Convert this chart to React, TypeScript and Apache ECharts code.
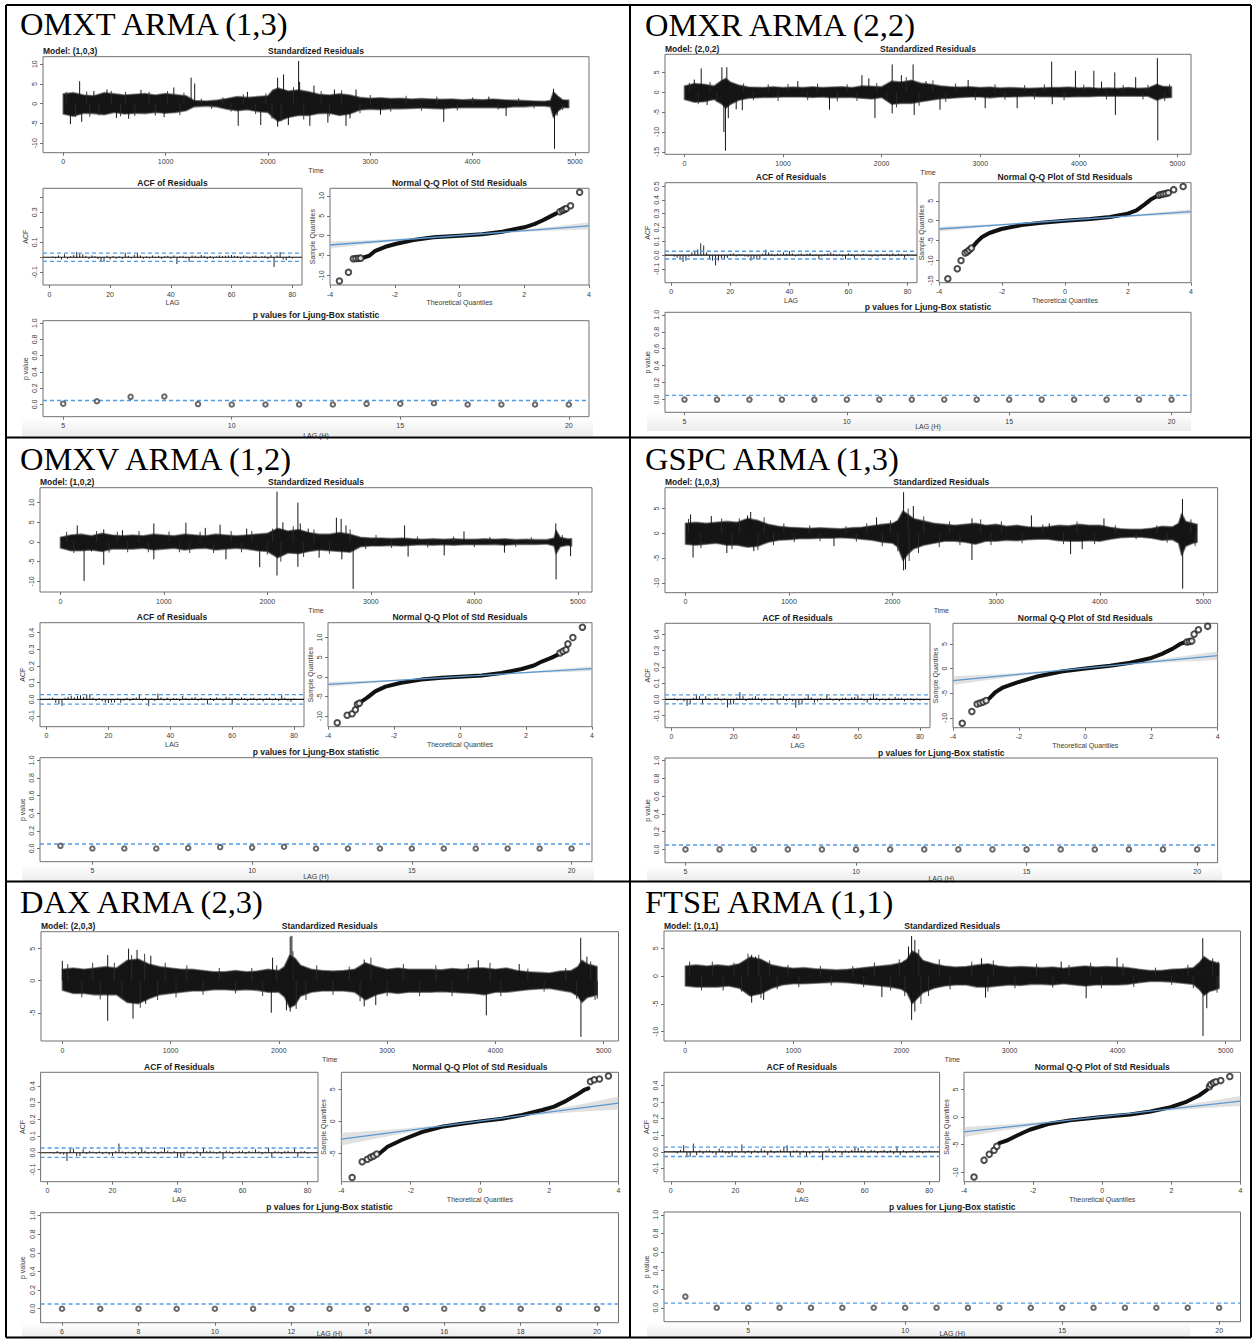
import React, { useEffect, useRef } from "react";
import * as echarts from "echarts";

// ---------------- DATA ----------------
const TITLES = ["OMXT ARMA (1,3)", "OMXR ARMA (2,2)", "OMXV ARMA (1,2)", "GSPC ARMA (1,3)", "DAX ARMA (2,3)", "FTSE ARMA (1,1)"];
const MODELS = ["Model: (1,0,3)", "Model: (2,0,2)", "Model: (1,0,2)", "Model: (1,0,3)", "Model: (2,0,3)", "Model: (1,0,1)"];

// residual envelope [time, upper, lower]
const OMXT_BAND = [[0,2.5,-2.6],[100,2.8,-3.2],[200,2.2,-2.4],[300,2.0,-2.5],[400,2.8,-2.8],[500,2.5,-2.2],[600,2.2,-2.6],[700,2.4,-2.4],[800,2.6,-2.5],[900,2.2,-2.2],[1000,2.6,-2.4],[1100,2.3,-2.2],[1200,2.0,-1.8],[1280,0.8,-0.8],[1400,0.7,-0.6],[1500,0.9,-0.8],[1600,1.3,-1.4],[1700,1.8,-1.8],[1800,1.6,-1.5],[1900,1.8,-2.0],[2000,2.0,-2.2],[2050,3.5,-3.5],[2100,4.0,-4.5],[2200,3.2,-3.5],[2300,3.5,-3.0],[2400,3.0,-3.0],[2500,2.4,-2.5],[2600,2.2,-2.4],[2700,2.5,-3.0],[2800,2.2,-2.6],[2900,1.6,-1.6],[3000,1.4,-1.4],[3100,1.5,-1.5],[3200,1.3,-1.3],[3300,1.4,-1.3],[3400,1.2,-1.2],[3500,1.3,-1.1],[3600,1.2,-1.2],[3700,1.1,-1.3],[3800,1.2,-1.1],[3900,1.0,-1.0],[4000,1.1,-1.0],[4100,1.0,-1.0],[4200,1.2,-1.0],[4300,1.0,-1.1],[4400,0.9,-0.8],[4500,0.8,-0.8],[4600,0.7,-0.6],[4700,0.6,-0.6],[4760,0.8,-0.8],[4790,3.0,-3.5],[4830,2.0,-2.0],[4880,1.0,-1.0],[4940,0.9,-1.0]];
const OMXR_BAND = [[0,1.6,-1.8],[100,2.2,-2.5],[200,2.0,-2.4],[300,1.6,-1.8],[380,3.0,-3.0],[420,3.5,-4.0],[470,2.5,-3.0],[550,1.8,-2.0],[650,1.3,-1.5],[800,1.2,-1.3],[900,1.4,-1.3],[1000,1.2,-1.2],[1100,1.3,-1.2],[1200,1.2,-1.2],[1300,1.4,-1.3],[1400,1.2,-1.2],[1500,1.3,-1.4],[1600,1.4,-1.3],[1700,1.2,-1.3],[1800,1.6,-1.5],[1900,1.5,-1.7],[2000,1.4,-1.3],[2100,2.8,-3.0],[2200,2.6,-2.8],[2300,3.0,-2.8],[2400,2.3,-2.4],[2500,2.0,-2.0],[2600,1.6,-1.6],[2700,1.4,-1.5],[2800,1.3,-1.3],[2900,1.4,-1.2],[3000,1.2,-1.2],[3100,1.3,-1.4],[3200,1.1,-1.2],[3300,1.2,-1.2],[3400,1.1,-1.1],[3500,1.0,-1.0],[3600,1.1,-1.1],[3700,1.2,-1.1],[3800,1.2,-1.2],[3900,1.3,-1.2],[4000,1.1,-1.1],[4100,1.2,-1.1],[4200,1.0,-1.0],[4300,1.1,-1.0],[4400,1.0,-1.0],[4500,1.2,-1.0],[4600,1.0,-1.0],[4700,1.1,-1.0],[4790,2.0,-2.0],[4850,1.5,-1.5],[4940,1.4,-1.3]];
const OMXV_BAND = [[0,1.2,-1.5],[100,1.8,-2.2],[200,2.0,-2.2],[300,1.6,-2.0],[400,2.2,-2.4],[500,1.8,-1.8],[600,1.6,-1.8],[700,1.8,-1.8],[800,1.6,-1.6],[900,2.0,-2.0],[1000,1.8,-1.8],[1100,1.6,-1.6],[1200,2.0,-2.0],[1300,1.8,-1.7],[1400,1.6,-1.6],[1500,2.0,-2.0],[1600,1.8,-1.8],[1700,1.6,-1.6],[1800,1.8,-1.8],[1900,2.0,-2.2],[2000,2.2,-2.4],[2100,3.5,-4.0],[2200,2.8,-2.8],[2300,3.2,-3.0],[2400,2.4,-2.4],[2500,2.0,-2.0],[2600,2.0,-2.2],[2700,2.4,-2.4],[2800,2.0,-2.6],[2900,1.2,-1.2],[3000,1.0,-1.0],[3100,1.0,-1.0],[3200,0.9,-0.9],[3300,1.0,-1.0],[3400,0.8,-0.8],[3500,0.7,-0.7],[3600,0.8,-0.8],[3700,0.7,-0.7],[3800,0.8,-0.8],[3900,0.7,-0.7],[4000,0.7,-0.7],[4100,0.8,-0.7],[4200,0.7,-0.6],[4300,0.8,-0.8],[4400,0.6,-0.6],[4500,0.7,-0.6],[4600,0.6,-0.6],[4700,0.6,-0.5],[4770,1.0,-1.0],[4790,3.0,-3.0],[4830,1.2,-1.2],[4900,0.8,-0.8],[4940,0.8,-1.0]];
const GSPC_BAND = [[0,2.0,-2.2],[100,2.2,-2.4],[200,2.0,-2.2],[300,2.2,-2.0],[400,2.4,-2.4],[500,2.2,-2.4],[600,3.0,-2.8],[700,2.6,-2.6],[800,1.8,-1.8],[900,1.4,-1.4],[1000,1.2,-1.3],[1100,1.1,-1.1],[1200,1.0,-1.1],[1300,1.1,-1.0],[1400,1.0,-1.0],[1500,0.9,-0.9],[1600,1.1,-1.0],[1700,1.2,-1.2],[1800,1.5,-1.4],[1900,1.8,-1.8],[2000,2.0,-2.0],[2050,2.6,-2.8],[2100,4.5,-5.5],[2150,3.8,-4.2],[2200,3.0,-3.2],[2300,2.5,-2.4],[2400,2.0,-2.0],[2500,1.8,-1.6],[2600,1.6,-1.6],[2700,1.8,-1.8],[2800,2.0,-2.2],[2900,1.6,-1.6],[3000,1.8,-1.6],[3100,1.4,-1.4],[3200,1.6,-1.5],[3300,1.3,-1.3],[3400,1.2,-1.2],[3500,1.3,-1.2],[3600,1.6,-1.5],[3700,1.5,-1.6],[3800,1.8,-1.6],[3900,1.6,-1.5],[4000,1.6,-1.6],[4100,1.2,-1.2],[4200,0.9,-0.9],[4300,0.8,-0.8],[4400,0.8,-0.8],[4500,1.0,-1.0],[4600,1.4,-1.4],[4700,1.3,-1.3],[4760,2.0,-2.0],[4790,4.0,-4.5],[4830,2.4,-2.6],[4900,2.0,-2.0],[4940,1.8,-1.8]];
const DAX_BAND = [[0,1.8,-1.5],[100,2.0,-2.0],[200,1.8,-2.0],[300,2.0,-2.2],[400,2.2,-2.2],[500,2.0,-2.2],[600,3.2,-3.4],[700,3.4,-3.6],[800,2.6,-2.8],[900,2.2,-2.2],[1000,2.0,-2.0],[1100,1.8,-1.8],[1200,1.8,-1.6],[1300,1.6,-1.6],[1400,1.4,-1.4],[1500,1.4,-1.4],[1600,1.6,-1.5],[1700,1.4,-1.4],[1800,1.5,-1.5],[1900,1.8,-1.8],[2000,1.6,-1.8],[2050,2.2,-2.5],[2100,4.0,-4.2],[2150,3.5,-3.8],[2200,2.4,-2.4],[2300,1.8,-1.8],[2400,1.6,-1.6],[2500,1.5,-1.6],[2600,1.6,-1.6],[2700,1.8,-1.8],[2800,2.8,-3.0],[2900,2.2,-2.2],[3000,1.8,-1.8],[3100,2.0,-2.0],[3200,1.8,-1.8],[3300,1.8,-1.8],[3400,1.8,-1.8],[3500,1.7,-1.7],[3600,1.9,-1.8],[3700,1.8,-1.9],[3800,2.0,-2.0],[3900,2.0,-2.2],[4000,1.8,-1.8],[4100,2.0,-1.8],[4200,1.6,-1.6],[4300,1.4,-1.4],[4400,1.3,-1.3],[4500,1.2,-1.2],[4600,1.5,-1.5],[4700,1.6,-1.8],[4760,2.2,-2.4],[4800,3.2,-3.4],[4850,2.6,-2.6],[4900,2.4,-2.4],[4940,2.2,-2.2]];
const FTSE_BAND = [[0,1.8,-1.8],[100,2.0,-2.0],[200,1.8,-2.0],[300,2.0,-2.0],[400,1.8,-1.8],[500,2.2,-2.2],[600,3.4,-3.6],[700,3.0,-3.2],[800,2.0,-2.2],[900,1.6,-1.6],[1000,1.4,-1.4],[1100,1.5,-1.4],[1200,1.3,-1.3],[1300,1.2,-1.2],[1400,1.1,-1.1],[1500,1.2,-1.2],[1600,1.4,-1.4],[1700,1.6,-1.6],[1800,1.8,-1.8],[1900,2.0,-2.0],[2000,2.4,-2.4],[2050,3.0,-3.0],[2100,4.5,-5.0],[2150,4.0,-4.0],[2200,2.8,-3.0],[2300,2.2,-2.2],[2400,1.8,-1.8],[2500,1.6,-1.6],[2600,1.7,-1.6],[2700,2.0,-2.0],[2800,2.2,-2.0],[2900,1.8,-1.8],[3000,1.6,-1.6],[3100,1.7,-1.7],[3200,1.6,-1.5],[3300,1.5,-1.5],[3400,1.6,-1.6],[3500,1.4,-1.4],[3600,1.6,-1.6],[3700,1.8,-1.8],[3800,1.6,-1.6],[3900,1.7,-1.6],[4000,1.6,-1.6],[4100,1.5,-1.5],[4200,1.2,-1.2],[4300,1.0,-1.0],[4400,1.0,-1.0],[4500,1.2,-1.1],[4600,1.3,-1.3],[4700,1.5,-1.5],[4760,2.5,-2.5],[4800,3.5,-3.5],[4850,2.8,-2.8],[4900,2.5,-2.5],[4940,2.2,-2.2]];

// large isolated residual spikes [time, value]
const OMXT_SPIKES = [[71,-5.2],[161,5.7],[181,-4.6],[300,3.2],[428,3.6],[520,-3.6],[640,-3.8],[760,3.5],[986,-3.4],[1081,4.1],[1250,6.6],[1285,5.1],[1710,-5.6],[1800,3.0],[1930,-5.4],[2095,6.6],[2095,-5.8],[2153,7.4],[2200,-5.4],[2300,10.8],[2310,5.5],[2410,-5.6],[2450,4.6],[2586,-4.8],[2650,3.6],[2763,-5.6],[2802,-3.7],[2861,3.6],[3100,-2.8],[3718,-4.6],[4159,1.8],[4327,-3.1],[4790,3.8],[4800,-11.4],[4826,-3.0]];
const OMXR_SPIKES = [[100,3.2],[170,6.0],[230,-3.2],[380,6.3],[400,-10.0],[416,-14.7],[430,6.3],[445,-6.5],[525,-4.3],[587,-4.5],[1150,2.8],[1471,-4.4],[1800,4.3],[1870,3.5],[1932,-6.5],[2107,7.0],[2107,-5.3],[2200,4.3],[2319,7.0],[2330,-5.7],[2450,2.8],[2592,-4.4],[2877,3.1],[3050,-4.0],[3374,-4.0],[3724,7.7],[3730,-3.0],[3965,5.4],[4152,5.4],[4230,2.7],[4364,5.0],[4370,-5.7],[4576,3.8],[4796,8.6],[4800,-12.1]];
const OMXV_SPIKES = [[163,4.2],[229,-9.9],[300,-2.4],[419,3.2],[419,-5.8],[600,3.0],[903,4.7],[903,-4.4],[1213,4.9],[1400,3.6],[1543,4.4],[1600,-4.4],[1800,3.4],[1926,-6.4],[2093,12.8],[2093,-8.5],[2150,5.0],[2295,10.0],[2295,-6.3],[2318,4.7],[2395,3.4],[2500,-4.0],[2667,6.2],[2713,5.9],[2720,-4.4],[2760,4.2],[2829,-11.9],[3326,4.2],[3360,-3.7],[3709,-3.4],[3900,2.7],[4291,-2.7],[4787,4.7],[4790,-9.5],[4930,-3.6]];
const GSPC_SPIKES = [[50,3.8],[74,-4.9],[250,3.5],[400,-4.0],[600,3.6],[630,4.3],[660,-3.6],[1434,-2.6],[1845,3.2],[2106,8.3],[2106,-7.5],[2125,-7.3],[2200,5.5],[2766,-5.4],[2766,3.0],[3340,3.6],[3512,2.0],[3718,-4.2],[3830,-3.2],[4040,3.0],[4798,6.9],[4800,-11.2]];
const DAX_SPIKES = [[0,3.1],[419,4.0],[419,-6.25],[612,5.0],[653,-5.9],[690,4.8],[770,-3.6],[817,3.9],[1930,-5.0],[1942,3.6],[2105,6.9],[2120,7.0],[2070,-4.6],[2105,-4.8],[2788,3.3],[2788,-4.0],[2895,-3.8],[3842,3.2],[3916,-5.4],[4220,2.6],[4788,6.7],[4790,-8.75],[4845,3.75],[4940,-2.8]];
const FTSE_SPIKES = [[614,3.8],[614,-4.8],[650,3.5],[725,-4.3],[1819,-3.8],[2065,5.3],[2094,7.2],[2094,-7.9],[2124,6.5],[2124,-6.4],[2741,3.2],[2778,-3.9],[3478,2.6],[3709,-4.0],[3995,3.3],[4788,6.8],[4790,-10.8],[4825,-5.8],[4930,2.6]];

// smaller excursions just outside the dense band [time, value]
const OMXT_SWINGS = [[30,3.0],[120,-3.4],[230,3.1],[260,-3.3],[350,-3.0],[470,3.2],[560,-3.2],[610,3.0],[700,-3.1],[840,3.0],[900,-3.0],[1020,3.2],[1140,-2.9],[1180,2.8],[1350,1.3],[1450,-1.3],[1560,1.6],[1640,-2.0],[1760,2.4],[1880,-2.6],[1980,2.6],[2040,-3.8],[2130,-4.4],[2250,4.2],[2350,-4.0],[2520,3.2],[2600,-3.2],[2720,3.4],[2900,-2.4],[3000,2.2],[3200,-2.0],[3350,2.0],[3500,-1.8],[3650,1.8],[3850,-1.7],[4000,1.6],[4250,-1.5],[4450,1.4],[4600,-1.2],[4880,-1.6]];
const OMXR_SWINGS = [[50,2.4],[140,-3.0],[260,2.6],[330,-2.5],[600,2.2],[700,-2.0],[850,2.0],[950,-2.2],[1050,2.1],[1250,-2.0],[1350,2.2],[1550,-2.3],[1650,2.0],[1750,-2.2],[1950,2.3],[2050,-2.0],[2150,-3.8],[2250,3.8],[2380,-3.4],[2520,3.0],[2650,-2.4],[2750,2.2],[2950,-2.0],[3150,2.0],[3250,-1.9],[3450,1.8],[3550,-1.8],[3650,2.0],[3850,-2.0],[4050,1.9],[4280,-1.8],[4450,1.8],[4650,-1.8],[4700,1.9],[4870,-2.2],[4920,2.0]];
const OMXV_SWINGS = [[60,2.6],[130,-2.8],[350,2.8],[470,-2.7],[550,2.6],[650,-2.6],[760,2.8],[850,-2.6],[1050,2.7],[1150,-2.6],[1250,-2.8],[1350,2.6],[1480,-2.8],[1650,2.8],[1750,-2.6],[1850,2.8],[2000,-3.2],[2050,3.4],[2130,-5.0],[2250,4.0],[2350,-3.8],[2450,3.2],[2600,-3.0],[2800,3.2],[2950,-1.8],[3050,1.8],[3200,-1.5],[3450,1.4],[3550,-1.4],[3800,1.4],[4000,-1.3],[4150,1.3],[4400,-1.2],[4550,1.2],[4850,1.8]];
const GSPC_SWINGS = [[30,2.9],[150,-3.0],[350,3.0],[450,-3.2],[520,3.0],[700,-3.4],[760,3.2],[850,-2.4],[950,2.0],[1050,-1.8],[1200,1.6],[1300,-1.6],[1550,1.4],[1650,-1.7],[1750,2.0],[1900,-2.6],[1980,2.6],[2050,-3.6],[2150,5.0],[2160,-5.6],[2250,-4.0],[2300,3.4],[2450,-2.8],[2550,2.4],[2650,-2.4],[2850,2.8],[2950,-2.4],[3050,2.4],[3250,-2.0],[3450,1.8],[3650,-2.2],[3780,2.4],[3950,-2.2],[4150,1.6],[4350,-1.2],[4550,1.6],[4650,-1.9],[4880,2.8],[4920,-2.6]];
const DAX_SWINGS = [[50,2.6],[180,-2.6],[280,2.8],[350,-2.9],[480,2.8],[550,-2.8],[640,4.0],[720,-4.2],[760,4.2],[880,-3.0],[950,2.8],[1050,-2.6],[1150,2.4],[1300,-2.2],[1450,2.0],[1600,-2.0],[1750,2.0],[1850,-2.4],[1980,2.4],[2130,4.6],[2160,-4.4],[2250,-3.0],[2350,2.4],[2500,-2.2],[2650,2.2],[2750,-3.2],[2850,3.6],[3000,-2.4],[3150,2.6],[3300,-2.4],[3450,2.4],[3600,-2.4],[3750,2.6],[3950,2.8],[4050,-2.4],[4300,1.9],[4450,-1.7],[4650,2.0],[4750,-2.8],[4880,3.0],[4920,-3.0]];
const FTSE_SWINGS = [[40,2.6],[150,-2.6],[250,2.6],[350,-2.6],[450,2.4],[520,-2.8],[580,4.0],[680,3.8],[700,-4.0],[780,2.8],[850,-2.4],[950,2.0],[1050,-2.0],[1250,1.8],[1350,-1.7],[1550,1.8],[1650,-2.0],[1750,2.4],[1900,-2.6],[1980,3.0],[2030,-3.6],[2160,4.8],[2180,-5.0],[2250,-3.6],[2350,3.0],[2450,-2.4],[2650,2.6],[2800,-2.8],[2850,2.8],[3050,-2.2],[3250,2.2],[3400,-2.1],[3550,2.0],[3750,2.4],[3850,-2.2],[4050,2.2],[4150,-2.0],[4350,1.5],[4500,-1.6],[4650,2.0],[4700,-2.2],[4880,3.2],[4920,-3.0]];

// ACF of residuals, lags 1..80
const OMXT_ACF = [0.005,-0.008,0.012,-0.015,0.02,-0.01,0.008,0.015,0.035,0.025,0.02,0.01,-0.01,0.012,0.008,-0.012,-0.028,-0.03,0.01,-0.015,0.008,-0.01,0.006,-0.012,0.03,0.01,-0.008,0.015,0.03,0.012,-0.01,0.006,-0.008,0.012,-0.006,0.01,-0.012,0.008,0.01,-0.01,0.012,-0.045,0.008,0.01,-0.008,-0.03,0.012,0.01,-0.006,0.015,0.01,-0.012,0.008,-0.01,0.006,0.012,0.008,0.01,0.012,0.015,0.01,0.008,-0.01,0.012,0.006,-0.008,0.01,0.012,-0.006,0.008,0.01,-0.012,0.015,-0.065,0.012,0.035,-0.015,-0.02,0.01,-0.008];
const OMXR_ACF = [-0.012,-0.02,-0.03,-0.05,-0.04,-0.012,0.02,0.03,0.04,0.085,0.07,0.02,-0.03,-0.04,-0.075,-0.04,-0.02,-0.03,-0.02,0.01,0.012,-0.01,0.008,0.006,-0.01,-0.015,-0.04,-0.03,-0.025,-0.03,0.01,0.04,0.02,0.01,-0.008,0.012,0.006,0.02,0.01,0.03,0.012,-0.01,0.008,0.012,-0.006,0.01,0.015,-0.008,0.006,-0.03,-0.01,0.008,0.012,0.02,0.01,-0.008,0.006,-0.01,-0.03,0.012,0.008,-0.02,0.006,-0.008,0.01,0.006,-0.008,-0.012,0.006,-0.01,0.008,-0.006,0.01,-0.01,0.012,-0.008,0.01,0.006,-0.02,0.008];
const OMXV_ACF = [0.004,0.01,-0.02,-0.03,-0.04,0.01,0.015,0.02,0.012,0.02,0.025,0.015,0.03,0.028,0.01,-0.01,0.008,-0.012,-0.02,-0.022,-0.018,-0.02,0.006,-0.02,-0.008,0.01,-0.01,0.008,0.012,0.03,-0.008,0.01,-0.04,0.006,-0.01,0.035,0.012,-0.008,0.01,-0.012,0.008,0.006,-0.01,0.02,0.008,-0.006,0.01,0.012,-0.008,0.01,0.006,-0.03,0.008,-0.01,0.012,0.006,-0.008,0.015,0.01,-0.03,0.008,-0.006,0.012,0.006,-0.01,0.008,0.01,-0.008,0.006,-0.012,0.008,0.01,-0.006,0.008,-0.01,0.025,0.01,-0.008,-0.015,0.006];
const GSPC_ACF = [0.006,-0.008,0.004,-0.012,-0.04,-0.03,0.01,0.03,0.02,-0.03,0.02,0.008,-0.006,0.01,0.012,-0.008,0.006,-0.05,-0.03,-0.03,0.01,0.045,0.02,-0.01,0.008,0.012,0.02,0.01,-0.012,0.008,-0.006,0.01,0.006,-0.025,0.008,0.02,-0.01,0.006,-0.012,-0.05,-0.035,-0.03,0.01,0.03,0.012,-0.02,-0.012,0.008,-0.006,0.03,0.01,-0.008,0.006,-0.012,0.008,0.01,-0.006,0.012,0.015,0.025,0.01,-0.008,-0.02,0.012,0.035,0.01,-0.01,0.006,-0.008,0.01,-0.006,0.015,0.008,0.01,-0.012,0.006,0.008,-0.01,0.006,-0.008];
const DAX_ACF = [0.004,-0.006,0.01,-0.008,-0.012,-0.05,0.025,0.025,-0.02,-0.02,0.02,-0.008,0.01,0.006,-0.006,0.008,-0.01,0.006,-0.012,-0.02,0.01,0.055,0.008,-0.01,0.006,-0.008,0.01,-0.012,0.03,0.012,-0.008,0.006,0.01,-0.01,0.008,0.03,0.012,-0.006,0.01,-0.03,-0.03,-0.02,0.008,0.006,-0.01,0.012,-0.02,0.03,0.01,0.012,0.008,-0.006,0.01,-0.04,0.012,0.008,-0.01,0.006,0.01,0.012,-0.008,0.01,0.006,0.02,0.008,-0.01,0.006,0.03,-0.03,0.01,0.008,-0.008,0.01,0.012,0.006,0.025,-0.03,0.008,0.01,-0.006];
const FTSE_ACF = [0.006,-0.01,0.012,0.04,-0.03,-0.03,0.05,-0.02,0.01,-0.012,0.008,0.01,-0.008,-0.02,0.02,0.012,-0.01,-0.012,-0.03,0.008,-0.006,0.045,-0.01,0.008,-0.012,0.01,-0.008,0.02,0.01,-0.02,0.012,-0.008,0.006,0.012,0.03,0.04,-0.03,0.008,0.01,-0.02,0.008,-0.025,-0.012,0.01,0.006,-0.008,-0.05,0.01,0.02,-0.008,0.012,0.006,-0.02,0.01,-0.006,0.012,0.03,0.025,0.01,0.015,-0.008,0.012,0.01,-0.01,0.006,0.012,-0.008,0.01,-0.012,0.035,-0.02,0.01,-0.008,0.006,0.012,-0.006,0.008,-0.01,0.006,0.008];
const ACF_BOUND = [0.028, 0.028, 0.028, 0.028, 0.028, 0.028];

// Q-Q: dense central curve, tail circles, reference line end points, band half-widths at x=-4..4
const OMXT_QQ_CURVE = [[-2.98,-5.55],[-2.78,-5.0],[-2.6,-3.8],[-2.29,-2.8],[-1.98,-2.1],[-1.42,-1.1],[-0.8,-0.42],[0,0],[0.7,0.34],[1.32,1.0],[1.69,1.6],[2.0,2.1],[2.31,2.9],[2.56,3.8],[2.75,4.6],[2.99,5.6]];
const OMXR_QQ_CURVE = [[-2.91,-6.4],[-2.78,-5.2],[-2.63,-4.1],[-2.4,-3.1],[-2.02,-2.1],[-1.38,-1.1],[-0.74,-0.5],[0,0],[0.8,0.42],[1.43,0.92],[1.95,1.67],[2.27,2.6],[2.53,4.1],[2.72,5.3],[2.9,6.1]];
const OMXV_QQ_CURVE = [[-2.99,-6.3],[-2.81,-5.3],[-2.57,-3.7],[-2.26,-2.5],[-1.78,-1.5],[-1.17,-0.7],[-0.56,-0.25],[0,0],[0.66,0.34],[1.26,1.0],[1.87,2.0],[2.24,2.9],[2.48,3.9],[2.78,4.9],[2.95,5.6]];
const GSPC_QQ_CURVE = [[-2.91,-6.1],[-2.72,-4.8],[-2.48,-3.8],[-2.05,-2.8],[-1.45,-1.6],[-0.72,-0.6],[0,0],[0.75,0.6],[1.36,1.2],[1.96,2.1],[2.32,3.0],[2.63,4.0],[2.87,5.0],[3.0,5.3]];
const DAX_QQ_CURVE = [[-2.9,-5.0],[-2.67,-3.96],[-2.26,-2.9],[-1.68,-1.67],[-1.1,-0.83],[-0.52,-0.36],[0,0],[0.64,0.42],[1.22,1.0],[1.8,1.77],[2.14,2.3],[2.49,3.2],[2.78,4.1],[3.01,4.9],[3.13,5.15]];
const FTSE_QQ_CURVE = [[-2.98,-4.7],[-2.74,-4.2],[-2.45,-3.3],[-2.1,-2.3],[-1.52,-1.2],[-0.94,-0.6],[0,0],[0.81,0.48],[1.4,1.0],[1.98,1.8],[2.45,2.8],[2.8,3.9],[3.03,4.9]];
const OMXT_QQ_TAIL = [[-3.71,-11.4],[-3.43,-9.2],[-3.28,-5.8],[-3.2,-5.75],[-3.12,-5.7],[-3.05,-5.65],[3.1,6.0],[3.18,6.3],[3.24,6.6],[3.3,6.8],[3.43,7.5],[3.71,10.9]];
const OMXR_QQ_TAIL = [[-3.72,-14.6],[-3.42,-12.1],[-3.3,-10.0],[-3.17,-8.1],[-3.1,-7.8],[-3.04,-7.4],[-2.97,-6.9],[2.98,6.4],[3.05,6.6],[3.12,6.7],[3.2,6.85],[3.28,7.0],[3.45,7.8],[3.75,8.6]];
const OMXV_QQ_TAIL = [[-3.72,-11.7],[-3.42,-9.8],[-3.27,-9.4],[-3.17,-8.4],[-3.11,-7.0],[-3.05,-6.7],[3.03,6.1],[3.12,6.5],[3.21,6.9],[3.27,8.4],[3.42,10.0],[3.71,12.66]];
const GSPC_QQ_TAIL = [[-3.72,-11.08],[-3.43,-8.7],[-3.27,-7.2],[-3.18,-7.0],[-3.09,-6.8],[-3.0,-6.5],[3.07,5.4],[3.15,5.5],[3.22,5.6],[3.29,7.0],[3.42,7.9],[3.7,8.58]];
const DAX_QQ_TAIL = [[-3.69,-8.75],[-3.4,-6.3],[-3.25,-5.9],[-3.15,-5.6],[-3.07,-5.4],[-2.98,-5.1],[3.19,6.2],[3.3,6.5],[3.45,6.6],[3.71,7.08]];
const FTSE_QQ_TAIL = [[-3.71,-10.84],[-3.42,-7.8],[-3.27,-6.75],[-3.13,-6.0],[-3.05,-5.3],[3.1,5.5],[3.14,5.9],[3.22,6.2],[3.29,6.4],[3.43,6.6],[3.69,7.35]];
const OMXT_QQ_LINE = [[-4,-2.35],[4,2.44]];
const OMXR_QQ_LINE = [[-4,-2.1],[4,2.26]];
const OMXV_QQ_LINE = [[-4,-1.94],[4,2.1]];
const GSPC_QQ_LINE = [[-4,-2.43],[4,2.64]];
const DAX_QQ_LINE = [[-4,-2.76],[4,2.86]];
const FTSE_QQ_LINE = [[-4,-2.7],[4,2.9]];
const QQ_BAND_X = [-4, -3, -2, -1, 0, 1, 2, 3, 4];
const OMXT_QQ_HALF = [0.9,0.55,0.3,0.15,0.1,0.15,0.3,0.55,0.9];
const OMXR_QQ_HALF = [0.6,0.4,0.2,0.1,0.08,0.1,0.2,0.4,0.6];
const OMXV_QQ_HALF = [0.6,0.4,0.2,0.1,0.08,0.1,0.2,0.4,0.6];
const GSPC_QQ_HALF = [0.9,0.55,0.3,0.15,0.1,0.15,0.3,0.55,0.9];
const DAX_QQ_HALF = [1.0,0.6,0.32,0.15,0.1,0.15,0.32,0.6,1.0];
const FTSE_QQ_HALF = [0.9,0.55,0.3,0.15,0.1,0.15,0.3,0.55,0.9];

// Ljung-Box p values (first lag, then values)
const LB_FIRST_LAG = [5, 5, 4, 5, 6, 3];
const OMXT_PVAL = [0.01,0.04,0.094,0.098,0.005,0,0,0,0,0.008,0.01,0.015,0,0,0,0];
const OMXR_PVAL = [0,0,0,0,0,0,0,0,0,0,0,0,0,0,0,0];
const OMXV_PVAL = [0.03,0,0,0,0.006,0.015,0.01,0.02,0,0,0,0,0,0,0,0,0];
const GSPC_PVAL = [0,0,0,0,0,0,0,0,0,0,0,0,0,0,0,0];
const DAX_PVAL = [0,0,0,0,0,0,0,0,0,0,0,0,0,0,0];
const FTSE_PVAL = [0.12,0,0,0,0,0,0,0,0,0,0,0,0,0,0,0,0,0];
const LB_LEVEL = 0.05;

// axis scales and tick labels
const RES_X = [-197, 5137];
const RES_X_TICKS = [0, 1000, 2000, 3000, 4000, 5000];
const RES_Y = [[-12.4, 11.9], [-15.6, 9.55], [-12.7, 13.8], [-12, 9.2], [-9.4, 7.65], [-11.7, 8.1]];
const RES_Y_TICKS = [[-10,-5,0,5,10], [-15,-10,-5,0,5], [-10,-5,0,5,10], [-10,-5,0,5], [-5,0,5], [-10,-5,0,5]];
const ACF_X = [-2.1, 83.2];
const ACF_X_TICKS = [0, 20, 40, 60, 80];
const ACF_Y = [[-0.185, 0.46], [-0.2, 0.525], [-0.164, 0.46], [-0.174, 0.468], [-0.174, 0.482], [-0.18, 0.48]];
const ACF_Y_TICKS = [[-0.1,0,0.1,0.2,0.3,0.4], [-0.1,0,0.1,0.2,0.3,0.4,0.5], [-0.1,0,0.1,0.2,0.3,0.4], [-0.1,0,0.1,0.2,0.3,0.4], [-0.1,0,0.1,0.2,0.3,0.4], [-0.1,0,0.1,0.2,0.3,0.4]];
const ACF_Y_LABELS = [[-0.1,0.1,0.3], [-0.1,0,0.1,0.2,0.3,0.4,0.5], [-0.1,0,0.1,0.2,0.3,0.4], [-0.1,0,0.1,0.2,0.3,0.4], [-0.1,0,0.1,0.2,0.3,0.4], [-0.1,0,0.1,0.2,0.3,0.4]];
const QQ_X_TICKS = [-4, -2, 0, 2, 4];
const LB_X = [[4.4, 20.6], [4.4, 20.6], [3.36, 20.64], [4.4, 20.6], [5.44, 20.56], [2.32, 20.68]];
const LB_X_TICKS = [[5,10,15,20], [5,10,15,20], [5,10,15,20], [5,10,15,20], [6,8,10,12,14,16,18,20], [5,10,15,20]];
const LB_Y = [-0.15, 1.03];
const LB_Y_TICKS = [0, 0.2, 0.4, 0.6, 0.8, 1.0];

const PANELS = [
  { band: OMXT_BAND, spikes: OMXT_SPIKES, swings: OMXT_SWINGS, acf: OMXT_ACF, curve: OMXT_QQ_CURVE, tail: OMXT_QQ_TAIL, line: OMXT_QQ_LINE, half: OMXT_QQ_HALF, pval: OMXT_PVAL },
  { band: OMXR_BAND, spikes: OMXR_SPIKES, swings: OMXR_SWINGS, acf: OMXR_ACF, curve: OMXR_QQ_CURVE, tail: OMXR_QQ_TAIL, line: OMXR_QQ_LINE, half: OMXR_QQ_HALF, pval: OMXR_PVAL },
  { band: OMXV_BAND, spikes: OMXV_SPIKES, swings: OMXV_SWINGS, acf: OMXV_ACF, curve: OMXV_QQ_CURVE, tail: OMXV_QQ_TAIL, line: OMXV_QQ_LINE, half: OMXV_QQ_HALF, pval: OMXV_PVAL },
  { band: GSPC_BAND, spikes: GSPC_SPIKES, swings: GSPC_SWINGS, acf: GSPC_ACF, curve: GSPC_QQ_CURVE, tail: GSPC_QQ_TAIL, line: GSPC_QQ_LINE, half: GSPC_QQ_HALF, pval: GSPC_PVAL },
  { band: DAX_BAND, spikes: DAX_SPIKES, swings: DAX_SWINGS, acf: DAX_ACF, curve: DAX_QQ_CURVE, tail: DAX_QQ_TAIL, line: DAX_QQ_LINE, half: DAX_QQ_HALF, pval: DAX_PVAL },
  { band: FTSE_BAND, spikes: FTSE_SPIKES, swings: FTSE_SWINGS, acf: FTSE_ACF, curve: FTSE_QQ_CURVE, tail: FTSE_QQ_TAIL, line: FTSE_QQ_LINE, half: FTSE_QQ_HALF, pval: FTSE_PVAL },
];

// ---------------- LAYOUT (page pixels: left, top, right, bottom) ----------------
const LAYOUT = [
  { title: [20, 24.2], res: [43, 56.7, 589, 152.7], acf: [43, 188.3, 302, 285], qq: [330, 188.3, 589, 285], lb: [43, 320.7, 589, 416.7], fade: [22, 418, 593, 436], lagY: 435 },
  { title: [645, 24.5], res: [665, 54.3, 1191, 154.3], acf: [665, 182.7, 917, 282.7], qq: [939, 182.7, 1191, 282.7], lb: [665, 312.3, 1191, 412.3], fade: [647, 413, 1191, 431], lagY: 426.7 },
  { title: [20, 458.8], res: [40, 487.7, 592, 592], acf: [40, 622.7, 304, 726.7], qq: [328, 622.7, 592, 726.7], lb: [40, 757.7, 592, 861.7], fade: [22, 863, 594, 881], lagY: 876.7 },
  { title: [645, 458.8], res: [665, 487.7, 1217.6, 592.7], acf: [665, 623.3, 930, 727.7], qq: [953, 623.3, 1217.6, 727.7], lb: [665, 758, 1217.6, 862.7], fade: [647, 866, 1222, 881], lagY: 878.5 },
  { title: [20, 902.2], res: [41, 931.7, 618.5, 1041], acf: [40.6, 1072.3, 318, 1181.7], qq: [341.4, 1072.3, 618.5, 1181.7], lb: [40.6, 1212.7, 618.5, 1322.7], fade: [22, 1323, 594, 1337], lagY: 1333 },
  { title: [645, 902.2], res: [664, 931, 1240.5, 1041], acf: [664, 1072.3, 939.6, 1181.7], qq: [964, 1072.3, 1240.5, 1181.7], lb: [664, 1212, 1240.5, 1321.7], fade: [647, 1322, 1190, 1337], lagY: 1333 },
];

const SANS = '"Liberation Sans", Arial, Helvetica, sans-serif';
const SERIF = '"Liberation Serif", "Times New Roman", serif';
const BOX = "#707070";
const LABEL = "#3a3a3a";
const BLUE_DASH = "#4d9de6";
const QQ_BLUE = "#5b98d2";

function gridOf(b: number[]) {
  return { left: b[0], top: b[1], width: b[2] - b[0], height: b[3] - b[1], show: true, borderColor: BOX, borderWidth: 1, backgroundColor: "transparent", containLabel: false };
}

function axis(gridIndex: number, range: number[], ticks: number[], labels: number[], fmt: (v: number) => string, isY: boolean) {
  return {
    type: "value",
    gridIndex,
    min: range[0],
    max: range[1],
    axisLine: { show: false, onZero: false },
    splitLine: { show: false },
    axisTick: { show: true, inside: false, length: 3, lineStyle: { color: BOX, width: 1 }, customValues: ticks },
    axisLabel: { show: true, customValues: labels, formatter: fmt, fontSize: 7, color: LABEL, fontFamily: SANS, margin: isY ? 5 : 5.5, rotate: isY ? 90 : 0 },
  };
}

const intFmt = (v: number) => String(Math.round(v));
const dec1 = (v: number) => (Math.abs(v) < 1e-9 ? "0.0" : v.toFixed(1));

// whole envelope drawn as one polygon through the axis scales
function bandRender(rows: number[][], color: string, stroke: string, sw: number) {
  return (params: any, api: any) => {
    if (params.dataIndex !== 0) return null;
    const upper = rows.map((r) => api.coord([r[0], r[1]]));
    const lower = rows.slice().reverse().map((r) => api.coord([r[0], r[2]]));
    return { type: "polygon", shape: { points: upper.concat(lower) }, style: { fill: color, stroke: stroke, lineWidth: sw, lineJoin: "round" } };
  };
}

function stickRender(color: string, width: number) {
  return (_params: any, api: any) => {
    const x = api.value(0);
    const p0 = api.coord([x, 0]);
    const p1 = api.coord([x, api.value(1)]);
    return { type: "line", shape: { x1: p0[0], y1: p0[1], x2: p1[0], y2: p1[1] }, style: { stroke: color, lineWidth: width } };
  };
}

function text(str: string, x: number, y: number, font: string, color: string, align = "center", rot = 0) {
  return {
    type: "text",
    x,
    y,
    rotation: rot,
    silent: true,
    z: 50,
    style: { text: str, font, fill: color, textAlign: align, align, textVerticalAlign: "middle", verticalAlign: "middle" },
  };
}

function hline(xi: number, y: number, range: number[], color: string, width: number, dashed: boolean) {
  return {
    type: "line",
    xAxisIndex: xi,
    yAxisIndex: xi,
    data: [[range[0], y], [range[1], y]],
    showSymbol: false,
    silent: true,
    lineStyle: { color, width, type: dashed ? [4, 3] : "solid" },
    z: 3,
  };
}

function buildOption() {
  const grids: any[] = [];
  const xAxes: any[] = [];
  const yAxes: any[] = [];
  const series: any[] = [];
  const graphics: any[] = [];

  PANELS.forEach((P, p) => {
    const L = LAYOUT[p];
    const gi = 4 * p;

    // faint photographic fade at the bottom of each pasted plot
    graphics.push({
      type: "rect",
      silent: true,
      z: -10,
      shape: { x: L.fade[0], y: L.fade[1], width: L.fade[2] - L.fade[0], height: L.fade[3] - L.fade[1] },
      style: {
        fill: { type: "linear", x: 0, y: 0, x2: 0, y2: 1, colorStops: [{ offset: 0, color: "rgba(0,0,0,0)" }, { offset: 1, color: "rgba(0,0,0,0.075)" }] },
      },
    });

    grids.push(gridOf(L.res), gridOf(L.acf), gridOf(L.qq), gridOf(L.lb));
    xAxes.push(axis(gi, RES_X, RES_X_TICKS, RES_X_TICKS, intFmt, false));
    yAxes.push(axis(gi, RES_Y[p], RES_Y_TICKS[p], RES_Y_TICKS[p], intFmt, true));
    xAxes.push(axis(gi + 1, ACF_X, ACF_X_TICKS, ACF_X_TICKS, intFmt, false));
    yAxes.push(axis(gi + 1, ACF_Y[p], ACF_Y_TICKS[p], ACF_Y_LABELS[p], dec1, true));
    xAxes.push(axis(gi + 2, [-4, 4], QQ_X_TICKS, QQ_X_TICKS, intFmt, false));
    yAxes.push(axis(gi + 2, RES_Y[p], RES_Y_TICKS[p], RES_Y_TICKS[p], intFmt, true));
    xAxes.push(axis(gi + 3, LB_X[p], LB_X_TICKS[p], LB_X_TICKS[p], intFmt, false));
    yAxes.push(axis(gi + 3, LB_Y, LB_Y_TICKS, LB_Y_TICKS, dec1, true));

    // residuals
    series.push({ type: "custom", xAxisIndex: gi, yAxisIndex: gi, data: P.band, renderItem: bandRender(P.band, "#151515", "rgba(70,70,70,0.6)", 1.6), silent: true, z: 2 });
    series.push({ type: "custom", xAxisIndex: gi, yAxisIndex: gi, data: P.swings, renderItem: stickRender("#2b2b2b", 0.9), silent: true, z: 3 });
    series.push({ type: "custom", xAxisIndex: gi, yAxisIndex: gi, data: P.spikes, renderItem: stickRender("#141414", 1), silent: true, z: 3 });

    // ACF
    const acfData = P.acf.map((v, i) => [i + 1, v]);
    series.push({ type: "custom", xAxisIndex: gi + 1, yAxisIndex: gi + 1, data: acfData, renderItem: stickRender("#2a2a2a", 1), silent: true, z: 2 });
    series.push(hline(gi + 1, 0, ACF_X, "#111", 1.1, false));
    series.push(hline(gi + 1, ACF_BOUND[p], ACF_X, BLUE_DASH, 1.3, true));
    series.push(hline(gi + 1, -ACF_BOUND[p], ACF_X, BLUE_DASH, 1.3, true));

    // QQ
    const l0 = P.line[0];
    const l1 = P.line[1];
    const lineAt = (x: number) => l0[1] + ((x - l0[0]) * (l1[1] - l0[1])) / (l1[0] - l0[0]);
    const qqBand = QQ_BAND_X.map((x, i) => [x, lineAt(x) + P.half[i], lineAt(x) - P.half[i]]);
    series.push({ type: "custom", xAxisIndex: gi + 2, yAxisIndex: gi + 2, data: qqBand, renderItem: bandRender(qqBand, "rgba(200,200,200,0.55)", "none", 0), silent: true, z: 1 });
    series.push({ type: "line", xAxisIndex: gi + 2, yAxisIndex: gi + 2, data: P.line, showSymbol: false, silent: true, lineStyle: { color: QQ_BLUE, width: 1.3 }, z: 4 });
    series.push({ type: "line", xAxisIndex: gi + 2, yAxisIndex: gi + 2, data: P.curve, showSymbol: false, silent: true, lineStyle: { color: "#111", width: 4, cap: "round", join: "round" }, z: 3 });
    series.push({ type: "scatter", xAxisIndex: gi + 2, yAxisIndex: gi + 2, data: P.tail, symbol: "emptyCircle", symbolSize: 5.5, silent: true, itemStyle: { color: "#222", borderColor: "#222", borderWidth: 0.8 }, z: 3 });

    // Ljung-Box
    const lbData = P.pval.map((v, i) => [LB_FIRST_LAG[p] + i, v]);
    series.push({ type: "scatter", xAxisIndex: gi + 3, yAxisIndex: gi + 3, data: lbData, symbol: "emptyCircle", symbolSize: 4.5, silent: true, itemStyle: { color: "#444", borderColor: "#444", borderWidth: 0.8 }, z: 3 });
    series.push(hline(gi + 3, LB_LEVEL, LB_X[p], BLUE_DASH, 1.4, true));

    // texts
    graphics.push(text(TITLES[p], L.title[0], L.title[1], `32.5px ${SERIF}`, "#000", "left"));
    const bold = `bold 8.5px ${SANS}`;
    const small = `7px ${SANS}`;
    const cx = (b: number[]) => (b[0] + b[2]) / 2;
    const cy = (b: number[]) => (b[1] + b[3]) / 2;
    graphics.push(text(MODELS[p], L.res[0], L.res[1] - 5.3, bold, "#1a1a1a", "left"));
    graphics.push(text("Standardized Residuals", cx(L.res), L.res[1] - 5.3, bold, "#1a1a1a"));
    graphics.push(text("ACF of Residuals", cx(L.acf), L.acf[1] - 5.3, bold, "#1a1a1a"));
    graphics.push(text("Normal Q-Q Plot of Std Residuals", cx(L.qq), L.qq[1] - 5.3, bold, "#1a1a1a"));
    graphics.push(text("p values for Ljung-Box statistic", cx(L.lb), L.lb[1] - 5.3, bold, "#1a1a1a"));
    graphics.push(text("Time", cx(L.res), L.res[3] + 18, small, LABEL));
    graphics.push(text("LAG", cx(L.acf), L.acf[3] + 17.7, small, LABEL));
    graphics.push(text("Theoretical Quantiles", cx(L.qq), L.qq[3] + 17.7, small, LABEL));
    graphics.push(text("LAG (H)", cx(L.lb), L.lagY, small, LABEL));
    graphics.push(text("ACF", L.acf[0] - 18, cy(L.acf), small, LABEL, "center", Math.PI / 2));
    graphics.push(text("Sample Quantiles", L.qq[0] - 18, cy(L.qq), small, LABEL, "center", Math.PI / 2));
    graphics.push(text("p value", L.lb[0] - 18, cy(L.lb), small, LABEL, "center", Math.PI / 2));
  });

  // table rules
  const rule = (x1: number, y1: number, x2: number, y2: number) => ({
    type: "line",
    silent: true,
    z: 100,
    shape: { x1, y1, x2, y2 },
    style: { stroke: "#000", lineWidth: 2 },
  });
  graphics.push(rule(6, 5, 1251, 5));
  graphics.push(rule(6, 437.5, 1251, 437.5));
  graphics.push(rule(6, 881.5, 1251, 881.5));
  graphics.push(rule(6, 1337.5, 1251, 1337.5));
  graphics.push(rule(6, 5, 6, 1337.5));
  graphics.push(rule(630, 5, 630, 1337.5));
  graphics.push(rule(1251, 5, 1251, 1337.5));

  return {
    animation: false,
    backgroundColor: "#fff",
    grid: grids,
    xAxis: xAxes,
    yAxis: yAxes,
    series,
    graphic: { elements: graphics },
  };
}

export default function App() {
  const ref = useRef<HTMLDivElement>(null);
  useEffect(() => {
    if (!ref.current) return;
    const chart = echarts.init(ref.current, undefined, { renderer: "svg" });
    chart.setOption(buildOption() as any);
    return () => chart.dispose();
  }, []);
  return <div ref={ref} style={{ position: "absolute", left: 0, top: 0, width: 1259, height: 1339, background: "#fff" }} />;
}
